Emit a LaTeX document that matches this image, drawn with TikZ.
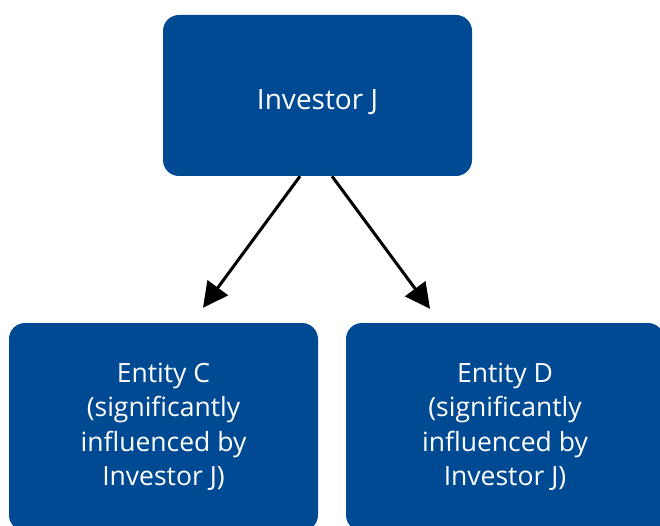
\documentclass[tikz,border=0pt]{standalone}
\usepackage{fontspec}
\setmainfont{Open Sans}
\usetikzlibrary{arrows.meta}
\definecolor{boxblue}{RGB}{0,74,147}
\tikzset{
	entitybox/.style = {fill = boxblue, text = white, rounded corners = 16pt, align = center,
		font = \fontsize{26.5}{34.5}\selectfont, inner sep = 0pt},
	ownarrow/.style = {line width = 3pt, -{Triangle[length = 25pt, width = 25pt]}}
}
\begin{document}
\begin{tikzpicture}[x = 1pt, y = 1pt]
		\clip (0,0) rectangle (660,-526);
		\node [entitybox, minimum width = 309pt, minimum height = 161pt, font = \fontsize{28}{34}\selectfont] (investor) at (317.5,-95.5) {\raisebox{-14.5pt}[0pt][0pt]{Investor J}};
		\node [entitybox, minimum width = 309pt, minimum height = 208pt] (entityc) at (163.5,-427) {Entity C\\(significantly\\influenced by\\Investor J)};
		\node [entitybox, minimum width = 318pt, minimum height = 208pt] (entityd) at (505,-427) {Entity D\\(significantly\\influenced by\\Investor J)};
		\draw [ownarrow] ([xshift = -17.5pt]investor.south) -- ([xshift = 39.5pt, yshift = 15pt]entityc.north);
		\draw [ownarrow] ([xshift = 14.5pt]investor.south) -- ([xshift = -75pt, yshift = 14pt]entityd.north);
	\end{tikzpicture}
\end{document}
